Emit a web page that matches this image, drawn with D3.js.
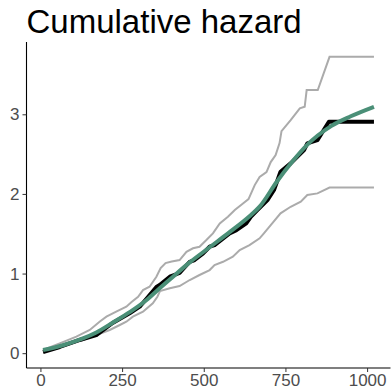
<!DOCTYPE html>
<html>
<head>
<meta charset="utf-8">
<script src="https://cdn.jsdelivr.net/npm/d3@7"></script>
<style>
  body { margin: 0; background: #fff; }
  svg { display: block; font-family: "Liberation Sans", Arial, sans-serif; }
</style>
</head>
<body>
<div id="chart"></div>
<script>
// cumulative hazard estimate (step), its confidence limits and a smooth fit
const estTime = [8, 59, 120, 171, 221, 273, 304, 355, 365, 396, 426, 457, 472, 498, 518, 533, 579, 600, 630, 644, 664, 695, 715, 735, 766, 807, 817, 848, 883, 1021];
const estHaz  = [0.015, 0.078, 0.166, 0.228, 0.379, 0.501, 0.584, 0.831, 0.856, 0.960, 1.007, 1.148, 1.170, 1.254, 1.337, 1.358, 1.505, 1.546, 1.630, 1.713, 1.797, 1.923, 2.049, 2.278, 2.384, 2.551, 2.635, 2.676, 2.906, 2.906];

const upperTime = [8, 59, 110, 151, 181, 202, 232, 263, 279, 299, 314, 334, 355, 368, 383, 402, 426, 447, 467, 487, 508, 528, 549, 574, 595, 620, 637, 656, 671, 692, 705, 720, 732, 738, 766, 794, 809, 815, 849, 885, 1021];
const upperHaz  = [0.040, 0.124, 0.207, 0.291, 0.395, 0.458, 0.521, 0.584, 0.643, 0.709, 0.793, 0.835, 0.960, 1.069, 1.132, 1.151, 1.170, 1.274, 1.317, 1.337, 1.421, 1.505, 1.630, 1.713, 1.797, 1.881, 1.935, 2.111, 2.212, 2.274, 2.400, 2.488, 2.638, 2.789, 2.927, 3.074, 3.094, 3.304, 3.304, 3.722, 3.722];

const lowerTime = [8, 69, 130, 171, 212, 243, 263, 283, 314, 344, 358, 366, 396, 426, 457, 487, 518, 533, 559, 589, 610, 640, 671, 684, 705, 735, 766, 797, 817, 848, 885, 1021];
const lowerHaz  = [0.015, 0.082, 0.166, 0.228, 0.291, 0.354, 0.395, 0.458, 0.521, 0.626, 0.709, 0.780, 0.815, 0.843, 0.919, 0.982, 1.044, 1.107, 1.148, 1.211, 1.295, 1.358, 1.442, 1.505, 1.609, 1.756, 1.839, 1.902, 1.986, 2.007, 2.080, 2.080];

const fitTime = [8, 69, 130, 171, 222, 273, 324, 365, 396, 457, 518, 579, 640, 671, 723, 770, 815, 891, 950, 1021];
const fitHaz  = [0.040, 0.100, 0.185, 0.260, 0.385, 0.515, 0.665, 0.815, 0.925, 1.140, 1.330, 1.520, 1.720, 1.840, 2.150, 2.400, 2.610, 2.855, 2.975, 3.094];

const xTicks = [0, 250, 500, 750, 1000];
const yTicks = [0, 1, 2, 3];
const title = 'Cumulative hazard';

const width = 391;
const height = 388;
const panel = { left: 26.5, right: 390.5, top: 42, bottom: 368 };

const svg = d3.select('#chart')
    .append('svg')
    .attr('width', width)
    .attr('height', height);

const zip = (a, b) => a.map((d, i) => [d, b[i]]);
const est = zip(estTime, estHaz);
const upper = zip(upperTime, upperHaz);
const lower = zip(lowerTime, lowerHaz);
const fit = zip(fitTime, fitHaz);

// ggplot-like 5% expansion of the data range
const expand = (ext) => {
    const pad = (ext[1] - ext[0]) * 0.05;
    return [ext[0] - pad, ext[1] + pad];
};
const allTime = [...estTime, ...upperTime, ...lowerTime, ...fitTime];
const allHaz = [...estHaz, ...upperHaz, ...lowerHaz, ...fitHaz, 0];

const x = d3.scaleLinear()
    .domain(expand(d3.extent(allTime)))
    .range([panel.left, panel.right]);

const y = d3.scaleLinear()
    .domain(expand(d3.extent(allHaz)))
    .range([panel.bottom, panel.top]);

const line = d3.line()
    .x(d => x(d[0]))
    .y(d => y(d[1]));

const smooth = d3.line()
    .curve(d3.curveMonotoneX)
    .x(d => x(d[0]))
    .y(d => y(d[1]));

svg.append('g')
    .attr('fill', 'none')
    .attr('stroke', '#ababab')
    .attr('stroke-width', 2)
    .selectAll('path')
    .data([upper, lower])
    .join('path')
    .attr('d', line);

svg.append('path')
    .datum(est)
    .attr('fill', 'none')
    .attr('stroke', '#000')
    .attr('stroke-width', 4)
    .attr('stroke-linejoin', 'round')
    .attr('d', line);

svg.append('path')
    .datum(fit)
    .attr('fill', 'none')
    .attr('stroke', '#4a8f77')
    .attr('stroke-width', 4)
    .attr('d', smooth);

// axes
const fmt = d3.format('d');
const xAxis = d3.axisBottom(x).tickValues(xTicks).tickFormat(fmt).tickSize(4).tickPadding(2).tickSizeOuter(0);
const yAxis = d3.axisLeft(y).tickValues(yTicks).tickFormat(fmt).tickSize(4).tickPadding(3).tickSizeOuter(0);

const styleAxis = (g) => {
    g.selectAll('.tick line').attr('stroke', '#333');
    g.selectAll('.tick text')
        .attr('fill', '#4d4d4d')
        .attr('font-family', '"Liberation Sans", Arial, sans-serif')
        .attr('font-size', 17);
};

svg.append('g')
    .attr('transform', `translate(0,${panel.bottom})`)
    .call(xAxis)
    .call(g => g.select('.domain').attr('d', `M${panel.left},0H${panel.right}`).attr('stroke', '#000').attr('stroke-width', 1.1))
    .call(styleAxis);

svg.append('g')
    .attr('transform', `translate(${panel.left},0)`)
    .call(yAxis)
    .call(g => g.select('.domain').attr('d', `M0,${panel.top}V${panel.bottom}`).attr('stroke', '#000').attr('stroke-width', 1.1))
    .call(styleAxis);

svg.append('text')
    .attr('x', panel.left)
    .attr('y', 33)
    .attr('font-size', 33)
    .attr('fill', '#000')
    .text(title);
</script>
</body>
</html>
